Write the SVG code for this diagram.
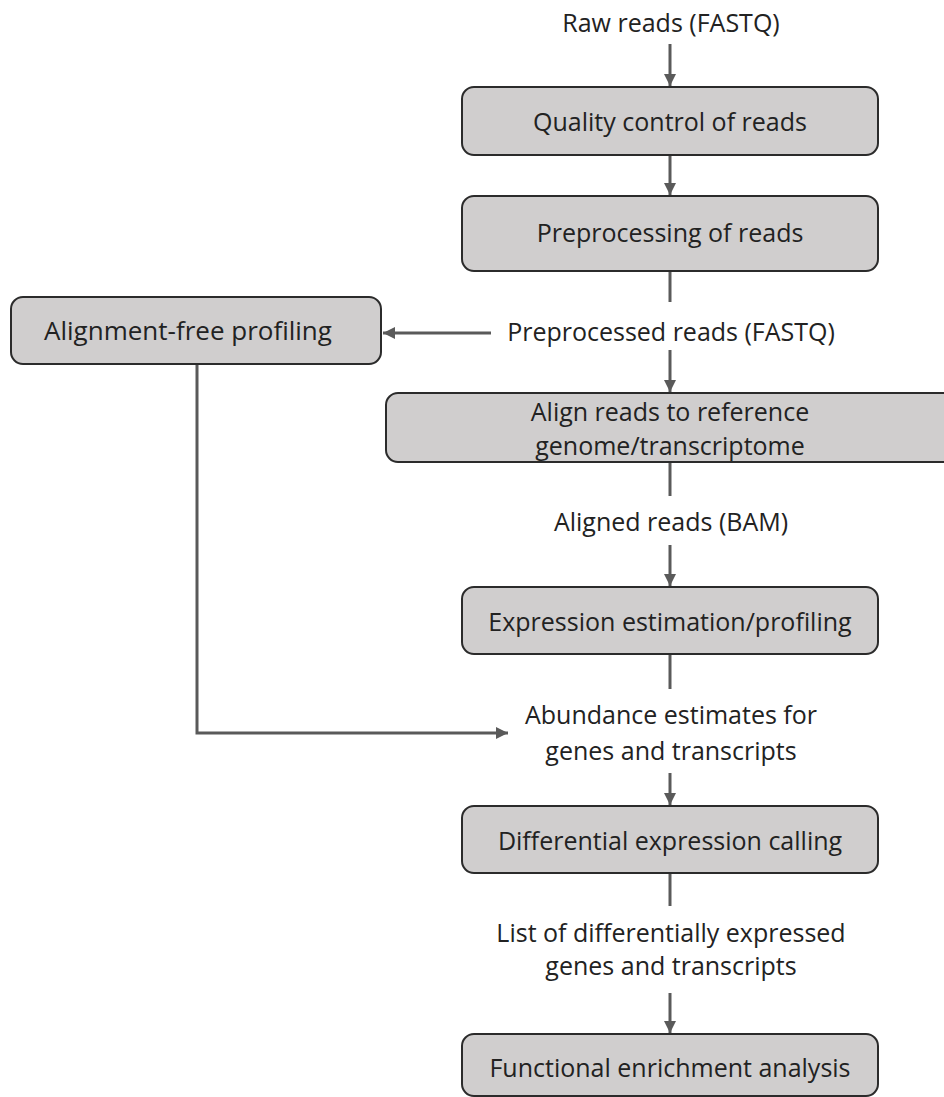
<svg xmlns="http://www.w3.org/2000/svg" width="944" height="1097" viewBox="0 0 944 1097">
<style>
.box{fill:#d0cece;stroke:#2b2b2b;stroke-width:2}
.t{font-family:"Open Sans","Liberation Sans",sans-serif;font-size:25px;fill:#222;text-anchor:middle;dominant-baseline:central}
.c{fill:none;stroke:#5a5a5a;stroke-width:3}
</style>
<defs>
<marker id="ah" viewBox="0 0 10 10" refX="10" refY="5" markerWidth="4" markerHeight="4" orient="auto" markerUnits="strokeWidth">
<path d="M0,0 L10,5 L0,10 z" fill="#5a5a5a"/>
</marker>
</defs>
<rect width="944" height="1097" fill="#fff"/>
<g id="connectors">
<line class="c" x1="670" y1="44" x2="670" y2="86" marker-end="url(#ah)"/>
<line class="c" x1="670" y1="155" x2="670" y2="195" marker-end="url(#ah)"/>
<line class="c" x1="670" y1="271" x2="670" y2="302"/>
<line class="c" x1="491" y1="333" x2="383" y2="333" marker-end="url(#ah)"/>
<line class="c" x1="670" y1="350" x2="670" y2="392" marker-end="url(#ah)"/>
<line class="c" x1="670" y1="462" x2="670" y2="496"/>
<line class="c" x1="670" y1="545" x2="670" y2="586" marker-end="url(#ah)"/>
<line class="c" x1="670" y1="654" x2="670" y2="689"/>
<polyline class="c" points="197,364 197,733 508,733" marker-end="url(#ah)"/>
<line class="c" x1="670" y1="773" x2="670" y2="805" marker-end="url(#ah)"/>
<line class="c" x1="670" y1="873" x2="670" y2="906"/>
<line class="c" x1="670" y1="993" x2="670" y2="1033" marker-end="url(#ah)"/>
</g>
<g id="raw"><text class="t" x="671" y="22">Raw reads (FASTQ)</text></g>
<g id="qc"><rect class="box" x="462" y="87" width="416" height="68" rx="12"/><text class="t" x="670" y="121">Quality control of reads</text></g>
<g id="pre"><rect class="box" x="462" y="196" width="416" height="75" rx="12"/><text class="t" x="670" y="232">Preprocessing of reads</text></g>
<g id="prereads"><text class="t" x="671" y="331">Preprocessed reads (FASTQ)</text></g>
<g id="afp"><rect class="box" x="11" y="297" width="370" height="67" rx="12"/><text class="t" x="188" y="330" style="font-size:26px">Alignment-free profiling</text></g>
<g id="align"><rect class="box" x="386" y="393" width="570" height="69" rx="12"/><text class="t" x="670" y="411">Align reads to reference</text><text class="t" x="670" y="445">genome/transcriptome</text></g>
<g id="bam"><text class="t" x="671" y="521">Aligned reads (BAM)</text></g>
<g id="expr"><rect class="box" x="462" y="587" width="416" height="67" rx="12"/><text class="t" x="670" y="621">Expression estimation/profiling</text></g>
<g id="abund"><text class="t" x="671" y="714">Abundance estimates for</text><text class="t" x="671" y="750">genes and transcripts</text></g>
<g id="de"><rect class="box" x="462" y="806" width="416" height="67" rx="12"/><text class="t" x="670" y="840">Differential expression calling</text></g>
<g id="list"><text class="t" x="671" y="932">List of differentially expressed</text><text class="t" x="671" y="965">genes and transcripts</text></g>
<g id="fe"><rect class="box" x="462" y="1034" width="416" height="62" rx="12"/><text class="t" x="670" y="1067">Functional enrichment analysis</text></g>
</svg>
